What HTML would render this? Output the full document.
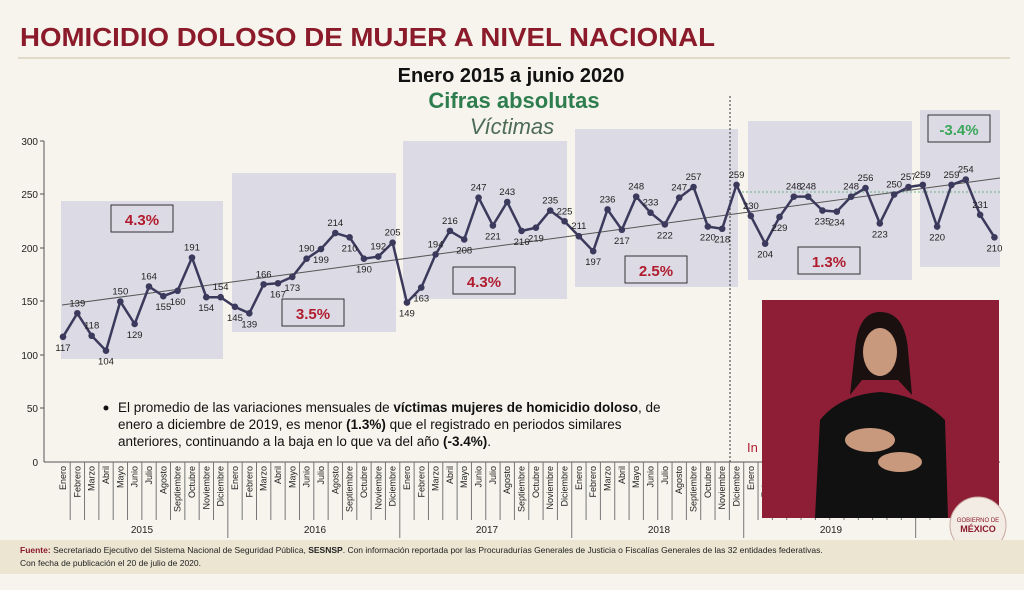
<!DOCTYPE html>
<html><head><meta charset="utf-8"><style>
body{margin:0;width:1024px;height:585px;overflow:hidden;background:#f6f4ec;font-family:"Liberation Sans",sans-serif;}
</style></head><body>
<svg width="1024" height="585" viewBox="0 0 1024 585" xmlns="http://www.w3.org/2000/svg" font-family="Liberation Sans, sans-serif">
<rect width="1024" height="585" fill="#f6f4ec"/>
<text x="20" y="46" font-size="26" font-weight="bold" fill="#8b1a2b" textLength="695" lengthAdjust="spacingAndGlyphs">HOMICIDIO DOLOSO DE MUJER A NIVEL NACIONAL</text>
<line x1="18" y1="58" x2="1010" y2="58" stroke="#c9bfa6" stroke-width="1"/>
<text x="511" y="82" font-size="20" font-weight="bold" text-anchor="middle" fill="#111">Enero 2015 a junio 2020</text>
<text x="514" y="108" font-size="22" font-weight="bold" text-anchor="middle" fill="#2e7d4f">Cifras absolutas</text>
<text x="512" y="134" font-size="22" font-style="italic" text-anchor="middle" fill="#4d6b55">Víctimas</text>
<g fill="#dcdae4">
<rect x="61" y="201" width="162" height="158"/>
<rect x="232" y="173" width="164" height="159"/>
<rect x="403" y="141" width="164" height="158"/>
<rect x="575" y="129" width="163" height="158"/>
<rect x="748" y="121" width="164" height="159"/>
<rect x="920" y="110" width="80" height="157"/>
</g>
<g stroke="#555" stroke-width="1">
<line x1="44" y1="141" x2="44" y2="462"/>
<line x1="44" y1="462" x2="1000" y2="462"/>
<line x1="40" y1="141" x2="44" y2="141"/><line x1="40" y1="194" x2="44" y2="194"/><line x1="40" y1="248" x2="44" y2="248"/><line x1="40" y1="301" x2="44" y2="301"/><line x1="40" y1="355" x2="44" y2="355"/><line x1="40" y1="408" x2="44" y2="408"/>
</g>
<g font-size="10" fill="#222" text-anchor="end">
<text x="38" y="145">300</text><text x="38" y="198">250</text><text x="38" y="252">200</text><text x="38" y="305">150</text><text x="38" y="359">100</text><text x="38" y="412">50</text><text x="38" y="466">0</text>
</g>
<line x1="730" y1="96" x2="730" y2="462" stroke="#333" stroke-dasharray="2,2"/>
<line x1="738" y1="192" x2="1000" y2="192" stroke="#6bb38a" stroke-dasharray="2,2"/>
<line x1="62" y1="305" x2="1000" y2="178" stroke="#555" stroke-width="1"/>
<g id="series"></g>
<g font-size="15" font-weight="bold" text-anchor="middle">
<rect x="111" y="205" width="62" height="27" fill="#dcdae4" stroke="#333"/><text x="142" y="225" fill="#b01c2e">4.3%</text>
<rect x="282" y="299" width="62" height="27" fill="#dcdae4" stroke="#333"/><text x="313" y="319" fill="#b01c2e">3.5%</text>
<rect x="453" y="267" width="62" height="27" fill="#dcdae4" stroke="#333"/><text x="484" y="287" fill="#b01c2e">4.3%</text>
<rect x="625" y="256" width="62" height="27" fill="#dcdae4" stroke="#333"/><text x="656" y="276" fill="#b01c2e">2.5%</text>
<rect x="798" y="247" width="62" height="27" fill="#dcdae4" stroke="#333"/><text x="829" y="267" fill="#b01c2e">1.3%</text>
<rect x="928" y="115" width="62" height="27" fill="#dcdae4" stroke="#333"/><text x="959" y="135" fill="#3aa65a">-3.4%</text>
</g>
<g font-size="13.5" fill="#111">
<circle cx="106" cy="408" r="2.5" fill="#111"/>
<text x="118" y="412">El promedio de las variaciones mensuales de <tspan font-weight="bold">víctimas mujeres de homicidio doloso</tspan>, de</text>
<text x="118" y="429">enero a diciembre de 2019, es menor <tspan font-weight="bold">(1.3%)</tspan> que el registrado en periodos similares</text>
<text x="118" y="446">anteriores, continuando a la baja en lo que va del año <tspan font-weight="bold">(-3.4%)</tspan>.</text>
</g>
<text x="747" y="452" font-size="13" fill="#b01c2e">In</text>
<g id="months" font-size="9" fill="#222"></g>
<g font-size="10" fill="#222" text-anchor="middle">
<text x="142" y="533">2015</text><text x="315" y="533">2016</text><text x="487" y="533">2017</text><text x="659" y="533">2018</text><text x="831" y="533">2019</text>
</g>
<rect x="762" y="300" width="237" height="218" fill="#8d1e35"/>
<path d="M815 518 L820 420 Q840 395 880 392 Q920 395 945 420 L948 518 Z" fill="#111"/>
<path d="M855 350 Q858 312 880 312 Q905 312 908 350 L912 395 L898 380 L862 380 L850 395 Z" fill="#1a1010"/>
<ellipse cx="880" cy="352" rx="17" ry="24" fill="#c9997e"/>
<ellipse cx="870" cy="440" rx="25" ry="12" fill="#c9997e"/>
<ellipse cx="900" cy="462" rx="22" ry="10" fill="#c9997e"/>
<circle cx="978" cy="525" r="28" fill="#f3ece4" stroke="#c8a8a0"/>
<text x="978" y="522" font-size="6" text-anchor="middle" fill="#8b1a2b">GOBIERNO DE</text>
<text x="978" y="532" font-size="9" font-weight="bold" text-anchor="middle" fill="#8b1a2b">MÉXICO</text>
<rect x="0" y="540" width="1024" height="34" fill="#ece5d2"/>
<text x="20" y="553" font-size="8.5" fill="#222"><tspan font-weight="bold" fill="#8b1a2b">Fuente:</tspan> Secretariado Ejecutivo del Sistema Nacional de Seguridad Pública, <tspan font-weight="bold">SESNSP</tspan>. Con información reportada por las Procuradurías Generales de Justicia o Fiscalías Generales de las 32 entidades federativas.</text>
<text x="20" y="566" font-size="8.5" fill="#222">Con fecha de publicación el 20 de julio de 2020.</text>
</svg>
<script>
var v=[117,139,118,104,150,129,164,155,160,191,154,154,145,139,166,167,173,190,199,214,210,190,192,205,149,163,194,216,208,247,221,243,216,219,235,225,211,197,236,217,248,233,222,247,257,220,218,259,230,204,229,248,248,235,234,248,256,223,250,257,259,220,259,264,231,210];
var lab=v.slice();lab[63]=254;
var below={0:1,2:0,3:1,5:1,7:1,8:1,10:1,12:1,13:1,15:1,16:1,18:1,20:1,21:1,24:1,25:1,28:1,30:1,32:1,33:1,37:1,39:1,42:1,45:1,46:1,49:1,50:1,53:1,54:1,57:1,61:1,65:1,64:0};
var NS="http://www.w3.org/2000/svg",g=document.getElementById('series');
function X(i){return 63+14.33*i}function Y(a){return 462-a*1.07}
var d=v.map(function(a,i){return (i?'L':'M')+X(i).toFixed(1)+' '+Y(a).toFixed(1)}).join('');
var p=document.createElementNS(NS,'path');p.setAttribute('d',d);p.setAttribute('fill','none');p.setAttribute('stroke','#3c3a5c');p.setAttribute('stroke-width','2.5');g.appendChild(p);
v.forEach(function(a,i){var c=document.createElementNS(NS,'circle');c.setAttribute('cx',X(i));c.setAttribute('cy',Y(a));c.setAttribute('r',3.3);c.setAttribute('fill','#3c3a5c');g.appendChild(c);
var t=document.createElementNS(NS,'text');t.setAttribute('x',X(i));t.setAttribute('y',Y(a)+(below[i]?14:-7));t.setAttribute('font-size','9.5');t.setAttribute('text-anchor','middle');t.setAttribute('fill','#222');t.textContent=lab[i];g.appendChild(t);});
var m=['Enero','Febrero','Marzo','Abril','Mayo','Junio','Julio','Agosto','Septiembre','Octubre','Noviembre','Diciembre'];
var mg=document.getElementById('months');
for(var i=0;i<61;i++){var x=X(i);var t=document.createElementNS(NS,'text');t.setAttribute('transform','translate('+(x+3)+',466) rotate(-90)');t.setAttribute('text-anchor','end');t.textContent=m[i%12];mg.appendChild(t);
var l=document.createElementNS(NS,'line');l.setAttribute('x1',x+7.2);l.setAttribute('x2',x+7.2);l.setAttribute('y1',462);l.setAttribute('y2',(i%12==11)?538:520);l.setAttribute('stroke','#777');mg.appendChild(l);}
</script>
</body></html>
